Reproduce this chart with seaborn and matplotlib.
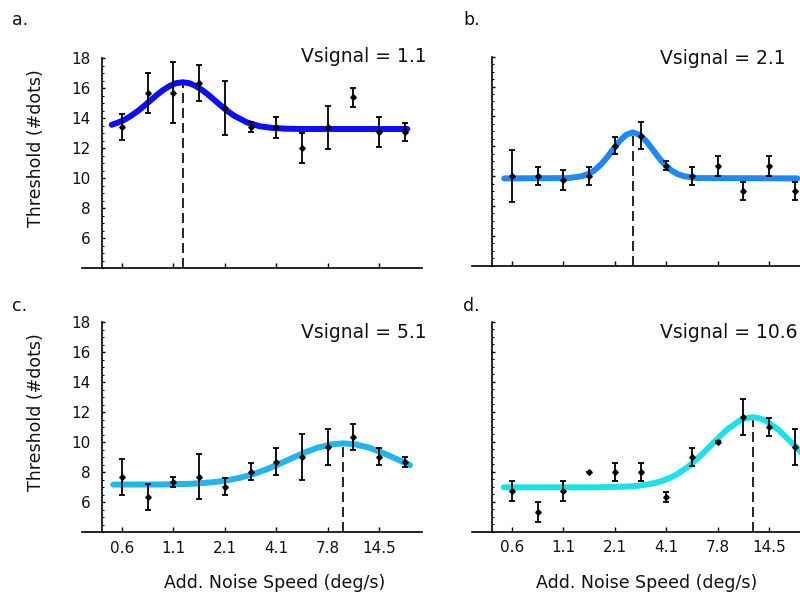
import numpy as np
import matplotlib.pyplot as plt
import seaborn as sns

# posiciones de ruido (pasos de media octava) y etiquetas del eje x
steps = list(range(12))
tick_steps = [0, 2, 4, 6, 8, 10]
tick_labels = ['0.6', '1.1', '2.1', '4.1', '7.8', '14.5']
v_signal = ['1.1', '2.1', '5.1', '10.6']
panel_tags = ['a.', 'b.', 'c.', 'd.']
fit_colors = ['#0d0dfa', '#1e88f5', '#22b4ee', '#1ee0ea']

# umbrales medidos (media y error)
thr_a = [13.42, 15.70, 15.70, 16.36, 14.68, 13.42, 13.40, 12.03, 13.40, 15.39, 13.07, 13.07]
err_a = [0.85, 1.35, 2.05, 1.2, 1.78, 0.35, 0.7, 1.0, 1.43, 0.64, 1.0, 0.58]
thr_b = [10.0, 10.0, 9.72, 10.03, 12.04, 12.71, 10.7, 10.0, 10.7, 9.0, 10.7, 9.0]
err_b = [1.73, 0.6, 0.68, 0.6, 0.57, 0.9, 0.32, 0.6, 0.68, 0.58, 0.68, 0.6]
thr_c = [7.71, 6.37, 7.35, 7.71, 7.04, 8.04, 8.71, 9.04, 9.71, 10.37, 9.04, 8.69]
err_c = [1.2, 0.87, 0.34, 1.48, 0.58, 0.57, 0.88, 1.53, 1.2, 0.87, 0.58, 0.33]
thr_d = [6.71, 5.33, 6.71, 8.0, 8.0, 8.0, 6.33, 9.0, 10.0, 11.67, 11.0, 9.67]
err_d = [0.66, 0.66, 0.66, 0.0, 0.6, 0.6, 0.34, 0.61, 0.08, 1.2, 0.59, 1.2]

# curvas de ajuste
fit_x_a = [-0.4, -0.14, 0.11, 0.36, 0.61, 0.86, 1.11, 1.36, 1.61, 1.86, 2.11, 2.36, 2.61, 2.86,
           3.11, 3.36, 3.61, 3.86, 4.11, 4.36, 4.86, 5.36, 5.86, 6.36, 7.0, 11.1]
fit_y_a = [13.56, 13.72, 13.91, 14.17, 14.47, 14.82, 15.19, 15.56, 15.89, 16.16, 16.34, 16.40, 16.34, 16.16,
           15.89, 15.56, 15.19, 14.82, 14.47, 14.17, 13.72, 13.46, 13.35, 13.30, 13.28, 13.28]
fit_x_b = [-0.3, 2.2, 2.7, 2.95, 3.2, 3.45, 3.7, 3.95, 4.2, 4.45, 4.7, 4.95, 5.2, 5.45, 5.7,
           5.95, 6.2, 6.45, 6.7, 7.2, 11.1]
fit_y_b = [9.85, 9.87, 9.99, 10.13, 10.38, 10.76, 11.26, 11.84, 12.38, 12.78, 12.93, 12.78, 12.38, 11.84, 11.26,
           10.76, 10.38, 10.13, 9.99, 9.87, 9.85]
fit_x_c = [-0.34, 1.61, 2.61, 3.11, 3.61, 4.11, 4.61, 5.11, 5.61, 6.11, 6.61, 7.11, 7.61, 8.11, 8.61,
           9.11, 9.61, 10.11, 10.61, 11.2]
fit_y_c = [7.18, 7.19, 7.23, 7.28, 7.35, 7.47, 7.64, 7.88, 8.19, 8.55, 8.94, 9.32, 9.64, 9.85, 9.93,
           9.85, 9.64, 9.32, 8.94, 8.48]
fit_x_d = [-0.32, 3.36, 4.36, 4.86, 5.36, 5.86, 6.36, 6.86, 7.36, 7.86, 8.36, 8.86, 9.11, 9.36,
           9.61, 9.86, 10.36, 10.86, 11.23]
fit_y_d = [6.96, 6.96, 7.0, 7.05, 7.17, 7.39, 7.76, 8.34, 9.10, 9.97, 10.80, 11.41, 11.57, 11.63,
           11.57, 11.41, 10.80, 9.97, 9.32]

thr = [thr_a, thr_b, thr_c, thr_d]
err = [err_a, err_b, err_c, err_d]
fits = [(fit_x_a, fit_y_a), (fit_x_b, fit_y_b), (fit_x_c, fit_y_c), (fit_x_d, fit_y_d)]

sns.set_theme(style='ticks')
plt.rcParams['font.family'] = ['DejaVu Sans']

W, H = 800, 597
fig = plt.figure(figsize=(W / 100, H / 100), dpi=100)

# cajas en pixeles: (x izquierda, y arriba, y abajo)
boxes = [(82, 58.3, 268), (472, 56.7, 265.7), (82, 322.3, 532.3), (472, 321.7, 531.7)]
tag_pos = [(12, 20), (463, 20), (12, 306), (463, 306)]
vs_pos = [(301, 57), (660, 59), (301, 333), (660, 333)]
xlab_pos = [None, None, 0.568, 0.515]

for i in range(4):
    x0, ytop, ybot = boxes[i]
    ax = fig.add_axes([x0 / W, 1 - ybot / H, 340 / W, (ybot - ytop) / H])
    ax.set_xlim(-1.556, 11.67)
    ax.set_ylim(4, 18)

    fx, fy = fits[i]
    sns.lineplot(x=fx, y=fy, ax=ax, color=fit_colors[i], lw=4.3, zorder=2)
    ax.errorbar(steps, thr[i], yerr=err[i], fmt='D', ms=2.8, color='black', ecolor='black',
                elinewidth=1.3, capsize=2.2, capthick=1.3, zorder=3)

    k = int(np.argmax(fy))
    ax.vlines(fx[k], 4, fy[k], colors='black', lw=1.2, linestyles=(0, (6, 3)), zorder=1)

    for s in ['top', 'right']:
        ax.spines[s].set_visible(False)
    ax.spines['left'].set_position(('data', -0.78))
    ax.spines['left'].set_linewidth(1.2)
    ax.spines['bottom'].set_linewidth(1.2)
    ax.spines['left'].set_color('black')
    ax.spines['bottom'].set_color('black')

    ax.set_yticks(np.arange(6, 19, 2))
    ax.set_yticks(np.arange(4, 18.1, 0.5), minor=True)
    ax.set_xticks(tick_steps)
    ax.tick_params(axis='both', which='major', direction='in', color='black', width=1.0,
                   labelsize=11, labelcolor='#111111')
    ax.tick_params(axis='y', which='major', length=2.5, pad=8)
    ax.tick_params(axis='x', which='major', length=3.6, pad=6)
    ax.tick_params(axis='y', which='minor', direction='in', length=1.2, width=0.8, color='black')

    if i in (0, 2):
        ax.set_ylabel('Threshold (#dots)', fontsize=12.5, color='#111111')
        ax.yaxis.set_label_coords(-0.109, 0.571)
    else:
        ax.set_yticklabels([])
    if i in (2, 3):
        ax.set_xticklabels(tick_labels)
        ax.set_xlabel('Add. Noise Speed (deg/s)', fontsize=12.5, color='#111111')
        ax.xaxis.label.set_va('center')
        ax.xaxis.set_label_coords(xlab_pos[i], -(583 - 532) / 210)
    else:
        ax.set_xticklabels([])
    ax.grid(False)

    tx, ty = tag_pos[i]
    fig.text(tx / W, 1 - ty / H, panel_tags[i], fontsize=12.5, va='center', ha='left', color='#111111')
    vx, vy = vs_pos[i]
    fig.text(vx / W, 1 - vy / H, 'Vsignal = ' + v_signal[i], fontsize=13.5, va='center', ha='left',
             color='#111111')

fig.savefig('out.png', dpi=100)
